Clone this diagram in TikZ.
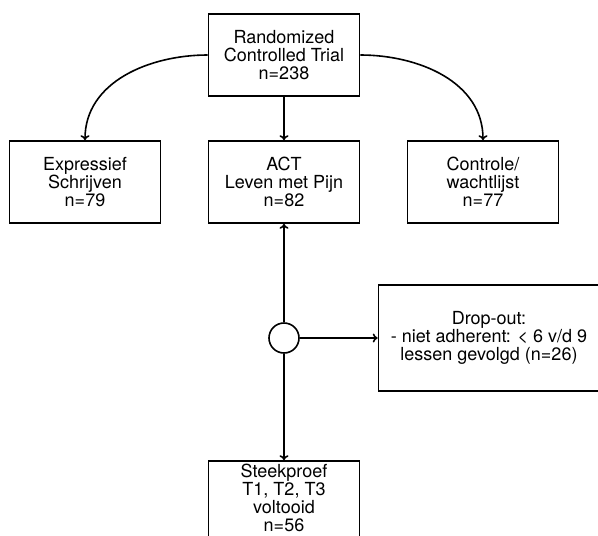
\documentclass[tikz,border=0pt]{standalone}
\usepackage{fontspec}
\setmainfont{TeX Gyre Heros}
\usetikzlibrary{positioning,arrows.meta}

\begin{document}
\begin{tikzpicture}[x=1pt,y=-1pt,line width=1.6pt,
    doos/.style={draw,minimum width=151pt,minimum height=82pt,inner sep=2pt,align=center,font=\fontsize{18}{18}\selectfont},
    pijl/.style={-{To[length=5pt,width=9pt]}}]
  \useasboundingbox (0,0) rectangle (598,536);
  \node[doos] (rct) at (284,55) {Randomized\\Controlled Trial\\n=238};
  \foreach \naam/\xpos/\tekst in {expr/85/{Expressief\\Schrijven\\n=79}, act/284/{ACT\\Leven met Pijn\\n=82}, ctrl/483/{Controle/\\wachtlijst\\n=77}}{
    \node[doos] (\naam) at (\xpos,182) {\tekst};
  }
  \node[draw,circle,minimum size=30pt,inner sep=0pt] (knoop) at (284,338) {};
  \node[doos,minimum width=221pt,minimum height=106pt] (drop) at (489,338) {Drop-out:\\- niet adherent: < 6 v/d 9\\lessen gevolgd (n=26)};
  \node[doos,text depth=8pt] (steek) at (284,502) {Steekproef\\T1, T2, T3\\voltooid\\n=56};
  \draw[pijl] (rct) -- (act);
  \draw[pijl] (rct.west) to[out=180,in=90] (expr.north);
  \draw[pijl] (rct.east) to[out=0,in=90] (ctrl.north);
  \draw[pijl] (knoop) -- (act);
  \draw[pijl] (knoop) -- (drop);
  \draw[pijl] (knoop) -- (steek);
\end{tikzpicture}
\end{document}
